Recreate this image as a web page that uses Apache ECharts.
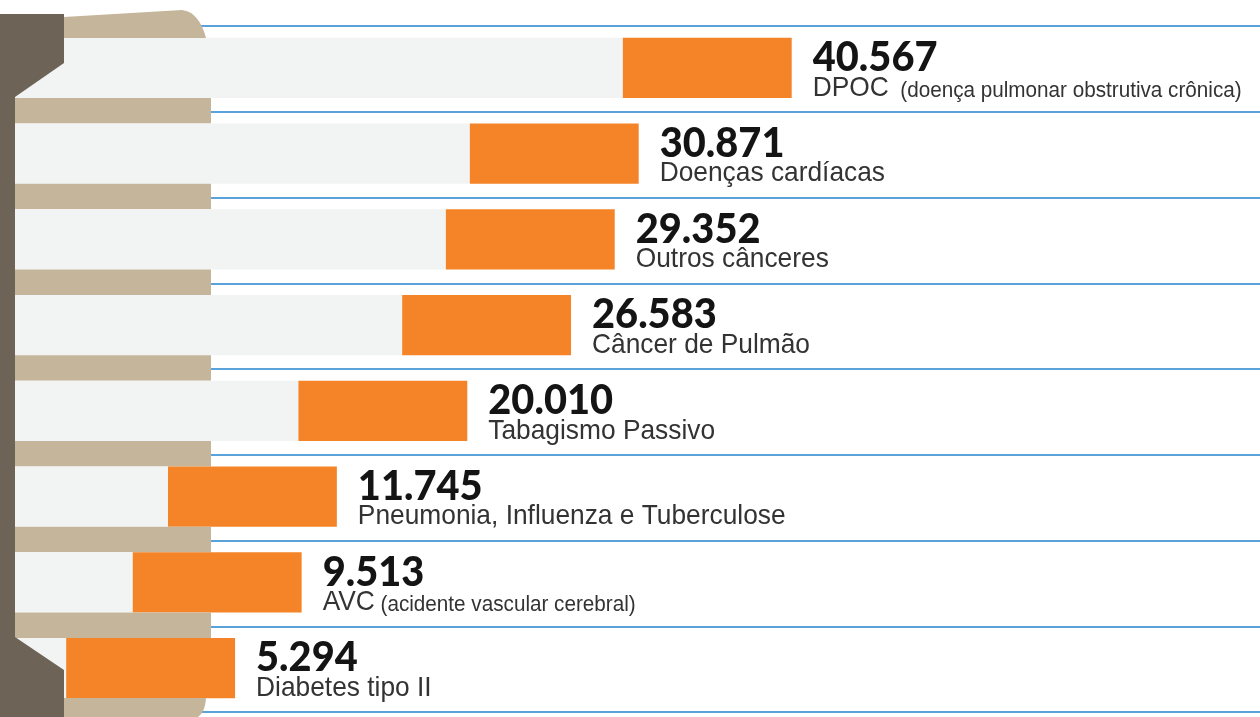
<!DOCTYPE html>
<html>
<head>
<meta charset="utf-8">
<script src="https://cdn.jsdelivr.net/npm/echarts@6/dist/echarts.min.js"></script>
<style>
  html, body { margin: 0; padding: 0; background: #ffffff; }
  #chart { width: 1260px; height: 717px; }
</style>
</head>
<body>
<div id="chart"></div>
<script>
// ---- data ----
const categories = ['DPOC', 'Doenças cardíacas', 'Outros cânceres', 'Câncer de Pulmão',
  'Tabagismo Passivo', 'Pneumonia, Influenza e Tuberculose', 'AVC', 'Diabetes tipo II'];
const notes = ['(doença pulmonar obstrutiva crônica)', '', '', '', '', '', '(acidente vascular cerebral)', ''];
const values = [40567, 30871, 29352, 26583, 20010, 11745, 9513, 5294];
// orange "filter" segment length, in data units
const FILTER = 10700;

function fmt(v) { return String(v).replace(/\B(?=(\d{3})+(?!\d))/g, '.'); }

const chart = echarts.init(document.getElementById('chart'), null, { renderer: 'canvas' });

const BROWN = '#6e6357';
const TAN = '#c4b59b';
const GRAY = '#f2f4f4';
const ORANGE = '#f58428';

function quad(p0, p1, p2, n) {
  const pts = [];
  for (let k = 0; k <= n; k++) {
    const t = k / n;
    pts.push([
      (1 - t) * (1 - t) * p0[0] + 2 * (1 - t) * t * p1[0] + t * t * p2[0],
      (1 - t) * (1 - t) * p0[1] + 2 * (1 - t) * t * p1[1] + t * t * p2[1]
    ]);
  }
  return pts;
}

function renderItem(params, api) {
  const i = api.value(1);
  const v = api.value(0);
  const end = api.coord([v, i]);
  const start = api.coord([v - FILTER, i]);
  const band = api.size([0, 1])[1];
  const h = band * 0.70;
  const yc = end[1] - 1;
  const top = yc - h / 2;
  const children = [
    { type: 'rect', shape: { x: 0, y: top, width: start[0], height: h }, style: { fill: GRAY } },
    { type: 'rect', shape: { x: start[0], y: top, width: end[0] - start[0], height: h }, style: { fill: ORANGE } }
  ];
  if (i < categories.length - 1) {
    children.push({ type: 'rect', shape: { x: 0, y: top + h, width: 211, height: band - h }, style: { fill: TAN } });
  }
  const tx = end[0] + 21;
  children.push({
    type: 'text', x: tx, y: yc - 10, scaleX: 0.97,
    style: {
      text: fmt(v), fill: '#141414', font: '900 41px Lato, "Liberation Sans", Arial, sans-serif',
      align: 'left', verticalAlign: 'middle'
    }
  });
  const note = notes[i];
  const txt = note ? '{m|' + categories[i] + '}{p|' + (i === 0 ? '  ' : ' ') + note + '}' : '{m|' + categories[i] + '}';
  children.push({
    type: 'text', x: tx, y: yc + 18, scaleX: 0.94,
    style: {
      text: txt, align: 'left', verticalAlign: 'middle',
      rich: {
        m: { fontFamily: '"Liberation Sans", Arial, sans-serif', fontSize: 28, lineHeight: 32, fill: '#333333', verticalAlign: 'bottom' },
        p: { fontFamily: '"Liberation Sans", Arial, sans-serif', fontSize: 22, lineHeight: 28, fill: '#333333', verticalAlign: 'bottom' }
      }
    }
  });
  return { type: 'group', children: children };
}

const topTan = [[64, 17], [182, 10]].concat(quad([182, 10], [199, 12], [206, 38], 10)).concat([[64, 38]]);
const botTan = [[64, 698], [206, 698]].concat(quad([206, 698], [205, 712], [198, 717], 8)).concat([[64, 717]]);

const option = {
  backgroundColor: '#ffffff',
  animation: false,
  grid: { left: 0, right: 0, top: 26, bottom: 5 },
  xAxis: { type: 'value', min: -9600, max: 70240, show: false },
  yAxis: {
    type: 'category', data: categories, inverse: true,
    axisLine: { show: false }, axisTick: { show: false }, axisLabel: { show: false },
    splitLine: { show: true, lineStyle: { color: '#5aa2da', width: 2 } }
  },
  series: [{
    type: 'custom',
    renderItem: renderItem,
    encode: { x: 0, y: 1 },
    data: values.map((v, i) => [v, i])
  }],
  graphic: [
    { type: 'polygon', z: 100, shape: { points: topTan }, style: { fill: TAN } },
    { type: 'polygon', z: 100, shape: { points: botTan }, style: { fill: TAN } },
    { type: 'polygon', z: 101, shape: { points: [[0, 14], [64, 14], [64, 63], [15, 97], [15, 637], [64, 670], [64, 717], [0, 717]] }, style: { fill: BROWN } }
  ]
};
chart.setOption(option);
</script>
</body>
</html>
